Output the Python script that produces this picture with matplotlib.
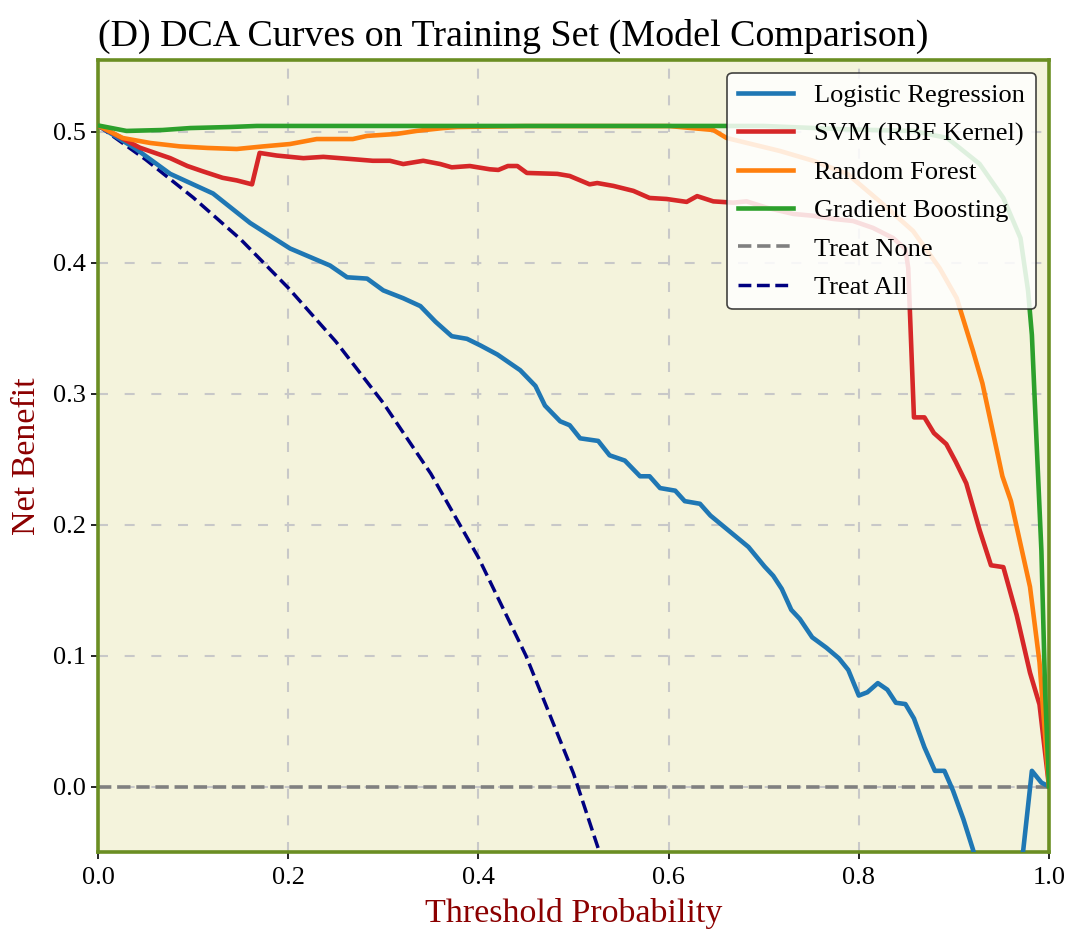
import matplotlib
matplotlib.use('Agg')
import matplotlib.pyplot as plt

plt.rcParams['font.family'] = ['Liberation Serif', 'DejaVu Serif']
plt.rcParams['mathtext.fontset'] = 'stix'

# threshold / net benefit values
lr_x = [0.0, 0.04, 0.076, 0.121, 0.16, 0.202, 0.244, 0.262, 0.283, 0.30, 0.321, 0.339, 0.355,
        0.372, 0.388, 0.402, 0.42, 0.444, 0.46, 0.47, 0.486, 0.496, 0.507, 0.526, 0.538, 0.554,
        0.57, 0.58, 0.591, 0.607, 0.617, 0.633, 0.644, 0.659, 0.684, 0.701, 0.710, 0.719, 0.729,
        0.738, 0.751, 0.766, 0.779, 0.789, 0.800, 0.809, 0.820, 0.830, 0.839, 0.849, 0.858,
        0.869, 0.880, 0.890, 0.899, 0.910, 0.920, 0.93, 0.94, 0.95, 0.96, 0.973, 0.982, 0.992, 1.0]
lr_y = [0.505, 0.487, 0.468, 0.453, 0.4305, 0.411, 0.398, 0.389, 0.388, 0.379, 0.373, 0.367, 0.355,
        0.344, 0.342, 0.337, 0.33, 0.318, 0.306, 0.291, 0.279, 0.276, 0.266, 0.264, 0.253, 0.249,
        0.237, 0.237, 0.228, 0.226, 0.218, 0.216, 0.207, 0.198, 0.183, 0.168, 0.161, 0.151, 0.135,
        0.128, 0.114, 0.106, 0.098, 0.089, 0.0695, 0.072, 0.079, 0.074, 0.064, 0.063, 0.052,
        0.030, 0.012, 0.012, -0.003, -0.025, -0.048, -0.075, -0.10, -0.12, -0.11, -0.048, 0.012, 0.003, 0.0]

svm_x = [0.0, 0.044, 0.076, 0.094, 0.110, 0.131, 0.146, 0.162, 0.170, 0.188, 0.216, 0.237, 0.272,
         0.289, 0.307, 0.321, 0.342, 0.360, 0.372, 0.391, 0.412, 0.421, 0.431, 0.441, 0.451, 0.483,
         0.496, 0.517, 0.525, 0.542, 0.563, 0.580, 0.598, 0.619, 0.630, 0.647, 0.668, 0.682, 0.704,
         0.731, 0.752, 0.773, 0.794, 0.815, 0.836, 0.849, 0.852, 0.858, 0.869, 0.879, 0.892, 0.902,
         0.913, 0.927, 0.939, 0.952, 0.966, 0.980, 0.990, 1.0]
svm_y = [0.505, 0.488, 0.480, 0.474, 0.470, 0.465, 0.463, 0.460, 0.484, 0.482, 0.480, 0.481, 0.479,
         0.478, 0.478, 0.4755, 0.478, 0.4755, 0.473, 0.474, 0.4715, 0.471, 0.474, 0.474, 0.4687, 0.468,
         0.4664, 0.460, 0.461, 0.4588, 0.455, 0.4496, 0.4488, 0.4466, 0.451, 0.447, 0.446, 0.447, 0.442,
         0.4374, 0.436, 0.4336, 0.432, 0.4267, 0.419, 0.4107, 0.396, 0.282, 0.282, 0.27, 0.2616, 0.248,
         0.2316, 0.196, 0.169, 0.1676, 0.131, 0.087, 0.0627, 0.0]

rf_x = [0.0, 0.026, 0.055, 0.086, 0.115, 0.146, 0.174, 0.202, 0.230, 0.268, 0.283, 0.314, 0.335,
        0.363, 0.378, 0.45, 0.55, 0.601, 0.647, 0.661, 0.717, 0.752, 0.788, 0.822, 0.857, 0.885,
        0.903, 0.920, 0.930, 0.951, 0.960, 0.980, 0.990, 1.0]
rf_y = [0.505, 0.4954, 0.4916, 0.489, 0.4878, 0.487, 0.489, 0.4908, 0.4946, 0.4946, 0.497, 0.4985,
        0.5008, 0.503, 0.5038, 0.5045, 0.5045, 0.5045, 0.5015, 0.4954, 0.4855, 0.478, 0.468, 0.447,
        0.4244, 0.396, 0.373, 0.333, 0.308, 0.237, 0.218, 0.1526, 0.095, 0.0]

gb_x = [0.0, 0.03, 0.068, 0.097, 0.139, 0.167, 0.3, 0.5, 0.7, 0.787, 0.857, 0.893, 0.927, 0.952,
        0.970, 0.978, 0.982, 0.987, 0.992, 0.996, 1.0]
gb_y = [0.505, 0.5008, 0.5015, 0.503, 0.5038, 0.5046, 0.5046, 0.5046, 0.5046, 0.502, 0.5008, 0.4954,
        0.4756, 0.4496, 0.419, 0.3786, 0.345, 0.262, 0.18, 0.071, 0.0]

all_x = [0.0, 0.05, 0.1, 0.15, 0.2, 0.25, 0.3, 0.35, 0.4, 0.45, 0.5, 0.55]
all_y = [0.505, 0.479, 0.450, 0.418, 0.381, 0.340, 0.293, 0.239, 0.175, 0.100, 0.010, -0.100]

none_x = [0.0, 1.0]
none_y = [0.0, 0.0]

models = [('Logistic Regression', lr_x, lr_y, '#1f77b4'),
          ('SVM (RBF Kernel)', svm_x, svm_y, '#d62728'),
          ('Random Forest', rf_x, rf_y, '#ff7f0e'),
          ('Gradient Boosting', gb_x, gb_y, '#2ca02c')]


def main():
    fig = plt.figure(figsize=(10.8, 9.43), dpi=100)
    ax = fig.add_axes([0.0907, 0.0965, 0.8806, 0.8399])
    ax.set_facecolor('#f4f3dc')

    for name, xs, ys, col in models:
        ax.plot(xs, ys, color=col, lw=3.3, label=name, zorder=3)
    ax.plot(none_x, none_y, color='gray', lw=2.6, linestyle='--',
            label='Treat None', zorder=2)
    ax.plot(all_x, all_y, color='#000080', lw=2.5, linestyle='--',
            label='Treat All', zorder=2)

    ax.set_xlim(0, 1)
    ax.set_ylim(-0.05, 0.555)
    ax.set_xticks([0.0, 0.2, 0.4, 0.6, 0.8, 1.0])
    ax.set_yticks([0.0, 0.1, 0.2, 0.3, 0.4, 0.5])
    ax.grid(True, color='#c8c8c8', lw=1.5, linestyle=(0, (4.8, 8.0)), zorder=1)
    ax.set_axisbelow(True)
    ax.tick_params(labelsize=19, length=5, width=1.2)
    ax.tick_params(axis='x', pad=6)

    for sp in ax.spines.values():
        sp.set_color('#6b8e23')
        sp.set_linewidth(2.6)

    ax.set_xlabel('Threshold Probability', fontsize=24.5, color='#8b0000', labelpad=6)
    ax.set_ylabel('Net Benefit', fontsize=24.5, color='#8b0000', labelpad=8)
    ax.set_title('(D) DCA Curves on Training Set (Model Comparison)', fontsize=27.4,
                 loc='left', pad=10)

    leg = ax.legend(loc='upper right', fontsize=19, framealpha=0.85, fancybox=True,
                    edgecolor='#222222', borderpad=0.4, labelspacing=0.56,
                    handlelength=2.1, handletextpad=0.8)
    leg.get_frame().set_linewidth(1.2)

    fig.savefig('out.png', dpi=100)


if __name__ == '__main__':
    main()
